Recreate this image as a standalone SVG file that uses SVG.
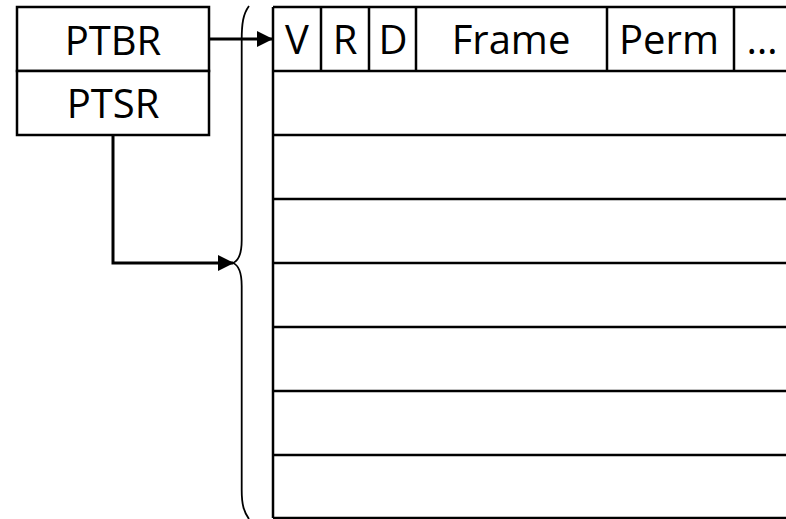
<svg xmlns="http://www.w3.org/2000/svg" width="786" height="519" viewBox="0 0 786 519">
<style>
.box{fill:#fff;stroke:#000;stroke-width:2.5}
.ln{stroke:#000;stroke-width:2.5;fill:none}
.t{font-family:"Open Sans","Liberation Sans",sans-serif;font-size:40px;fill:#000;text-anchor:middle}
.c{stroke:#000;stroke-width:3;fill:none}
.brace{stroke:#000;stroke-width:1.8;fill:none}
</style>
<defs>
<marker id="ah" markerWidth="16" markerHeight="16" refX="15" refY="8" orient="auto" markerUnits="userSpaceOnUse">
<path d="M0,0 L16,8 L0,16 Z" fill="#000"/>
</marker>
</defs>
<rect width="786" height="519" fill="#fff"/>
<g id="ptbr">
<rect class="box" x="17" y="7" width="192" height="64"/>
<text class="t" x="113" y="55">PTBR</text>
</g>
<g id="ptsr">
<rect class="box" x="17" y="71" width="192" height="64"/>
<text class="t" x="113" y="118">PTSR</text>
</g>
<g id="brace">
<path class="brace" d="M249,6 C243,14 241.7,24 241.7,40 L241.7,240 C241.7,255 238,261 233,263 C238,265 241.7,271 241.7,286 L241.7,490 C241.7,505 244,512 249,519"/>
</g>
<g id="table">
<path class="ln" d="M273,7 H800 M273,7 V518 M273,518 H800"/>
<path class="ln" d="M273,71 H800 M273,135 H800 M273,199 H800 M273,263 H800 M273,327 H800 M273,391 H800 M273,455 H800"/>
<path class="ln" d="M321,7 V71 M369,7 V71 M416,7 V71 M607,7 V71 M734,7 V71"/>
<text class="t" x="297" y="54">V</text>
<text class="t" x="345" y="54">R</text>
<text class="t" x="393" y="54">D</text>
<text class="t" x="511" y="54">Frame</text>
<text class="t" x="669" y="54">Perm</text>
<text class="t" x="762" y="54">…</text>
</g>
<g id="connectors">
<path class="c" d="M209,39 H272" marker-end="url(#ah)"/>
<path class="c" d="M113,135 V263 H233" marker-end="url(#ah)"/>
</g>
</svg>
